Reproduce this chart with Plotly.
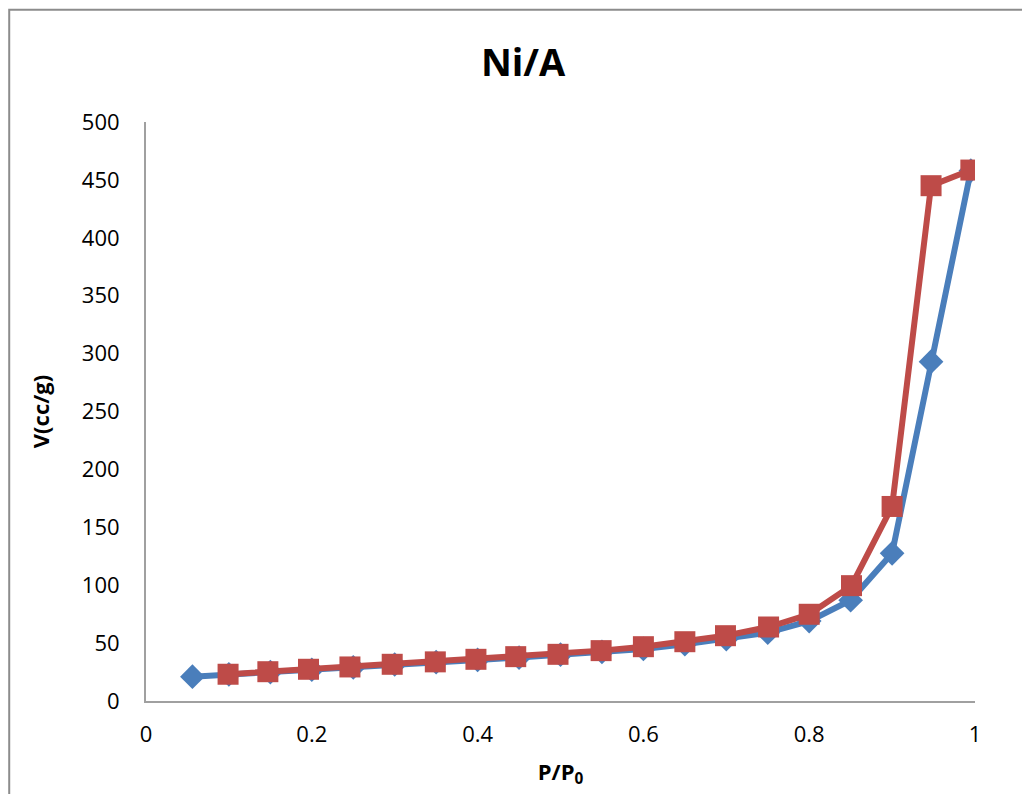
import plotly.graph_objects as go

# Adsorption (blue diamonds)
ads_x = [0.056, 0.1, 0.15, 0.2, 0.25, 0.3, 0.35, 0.4, 0.45, 0.5, 0.55, 0.6, 0.65, 0.7, 0.75, 0.8, 0.85, 0.9, 0.947, 0.995]
ads_y = [21, 23, 25, 27, 29, 31.5, 33.5, 35.5, 37.5, 40, 42.5, 45, 49, 53.5, 59, 69, 87, 127.5, 293, 458]

# Desorption (red squares)
des_x = [0.099, 0.147, 0.196, 0.246, 0.297, 0.349, 0.398, 0.446, 0.497, 0.549, 0.6, 0.65, 0.699, 0.751, 0.8, 0.851, 0.9, 0.947, 0.995]
des_y = [23.1, 25.3, 27.4, 29.4, 31.7, 33.8, 36, 38.3, 40.3, 43.5, 46.9, 51.2, 56.4, 63.9, 74.9, 99.6, 168, 445, 458.5]

x_ticks = [0, 0.2, 0.4, 0.6, 0.8, 1]
x_tick_labels = ["0", "0.2", "0.4", "0.6", "0.8", "1"]
y_ticks = list(range(0, 501, 50))

FONT = "Open Sans"

fig = go.Figure()
fig.add_trace(go.Scatter(
    x=ads_x, y=ads_y, mode="lines+markers", name="Adsorption",
    line=dict(color="#4a7ebb", width=6),
    marker=dict(symbol="diamond", size=19, color="#4a7ebb"),
))
fig.add_trace(go.Scatter(
    x=des_x, y=des_y, mode="lines+markers", name="Desorption",
    line=dict(color="#be4b48", width=6),
    marker=dict(symbol="square", size=21, color="#be4b48"),
))

fig.update_layout(
    width=1022, height=786,
    margin=dict(l=138, r=55, t=114, b=93),
    paper_bgcolor="white", plot_bgcolor="white",
    showlegend=False,
    font=dict(family=FONT, color="black"),
    title=dict(text="<b>Ni/A</b>", x=0.504, xanchor="center", y=0.931, yanchor="middle",
               font=dict(size=38, family=FONT, color="black")),
    xaxis=dict(
        range=[0, 1], tickvals=x_ticks, ticktext=x_tick_labels,
        showgrid=False, zeroline=False, showline=True, linecolor="#a0a0a0", linewidth=2,
        ticks="", ticklabelstandoff=13, tickfont=dict(size=22, family=FONT),
        title=dict(text="<b>P/P<sub>0</sub></b>", font=dict(size=22, family=FONT), standoff=17),
    ),
    yaxis=dict(
        range=[0, 500], tickvals=y_ticks,
        showgrid=False, zeroline=False, showline=True, linecolor="#a0a0a0", linewidth=2,
        ticks="", ticklabelstandoff=20, tickfont=dict(size=22, family=FONT),
        title=dict(text="<b>V(cc/g)</b>", font=dict(size=22, family=FONT), standoff=26),
    ),
)

# chart area border
fig.add_shape(type="rect", xref="paper", yref="paper",
              x0=-0.165, x1=1.10, y0=-0.2, y1=1.194,
              line=dict(color="#8c8c8c", width=2), fillcolor="rgba(0,0,0,0)", layer="below")

fig.write_html("out.html")
